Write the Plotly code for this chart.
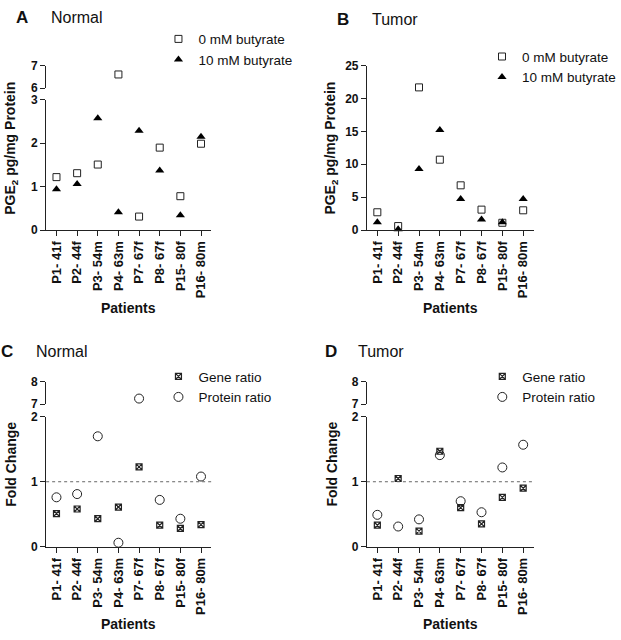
import plotly.graph_objects as go

W, H = 621, 640

patients = ["P1- 41f", "P2- 44f", "P3- 54m", "P4- 63m", "P7- 67f", "P8- 67f", "P15- 80f", "P16- 80m"]

normal_0mM = [1.22, 1.31, 1.51, 6.61, 0.31, 1.90, 0.78, 1.99]
normal_10mM = [0.94, 1.06, 2.58, 0.41, 2.29, 1.37, 0.34, 2.15]
tumor_0mM = [2.7, 0.6, 21.7, 10.7, 6.8, 3.1, 1.1, 3.0]
tumor_10mM = [1.2, 0.1, 9.3, 15.2, 4.7, 1.6, 1.2, 4.7]
normal_gene = [0.51, 0.58, 0.43, 0.61, 1.23, 0.33, 0.28, 0.34]
normal_protein = [0.76, 0.81, 1.70, 0.06, 7.25, 0.72, 0.43, 1.08]
tumor_gene = [0.33, 1.05, 0.24, 1.47, 0.60, 0.35, 0.76, 0.90]
tumor_protein = [0.49, 0.31, 0.42, 1.41, 0.70, 0.53, 1.22, 1.57]

FONT = "Arial, Liberation Sans, sans-serif"


def px_x(p):
    return p / W


def px_y(p):
    return 1 - p / H


sq = dict(symbol="square-open", size=7, color="#222", line=dict(width=1, color="#222"))
tri = dict(symbol="triangle-up", size=8, color="black", line=dict(width=0))
gene = dict(symbol="square-x-open", size=6, color="#222", line=dict(width=1.2, color="#222"))
circ = dict(symbol="circle-open", size=9, color="#222", line=dict(width=1, color="#222"))

fig = go.Figure()


def add_series(xa, ylow, yup, vals, brk, marker, name, legend):
    lo_x = [p for p, v in zip(patients, vals) if v <= brk]
    lo_y = [v for v in vals if v <= brk]
    hi_x = [p for p, v in zip(patients, vals) if v > brk]
    hi_y = [v for v in vals if v > brk]
    fig.add_trace(go.Scatter(x=lo_x, y=lo_y, xaxis=xa, yaxis=ylow, mode="markers",
                             marker=marker, name=name, legend=legend, cliponaxis=False))
    if yup:
        fig.add_trace(go.Scatter(x=hi_x, y=hi_y, xaxis=xa, yaxis=yup, mode="markers",
                                 marker=marker, name=name, showlegend=False, cliponaxis=False))


# Panel A
add_series("x", "y", "y2", normal_0mM, 3, sq, "0 mM butyrate", "legend")
add_series("x", "y", "y2", normal_10mM, 3, tri, "10 mM butyrate", "legend")
# Panel B
add_series("x2", "y3", None, tumor_0mM, 100, sq, "0 mM butyrate", "legend2")
add_series("x2", "y3", None, tumor_10mM, 100, tri, "10 mM butyrate", "legend2")
# Panel C
add_series("x3", "y4", "y5", normal_gene, 2, gene, "Gene ratio", "legend3")
add_series("x3", "y4", "y5", normal_protein, 2, circ, "Protein ratio", "legend3")
# Panel D
add_series("x4", "y6", "y7", tumor_gene, 2, gene, "Gene ratio", "legend4")
add_series("x4", "y6", "y7", tumor_protein, 2, circ, "Protein ratio", "legend4")

xdomL = [px_x(46.6), px_x(213.4)]
xdomR = [px_x(370.5), px_x(538.8)]

axcommon = dict(showline=True, linecolor="#222", linewidth=1, ticks="outside", ticklen=5,
                tickwidth=1, tickcolor="#222", showgrid=False, zeroline=False,
                tickfont=dict(family=FONT, size=12, color="#111", weight="bold"))

xcommon = dict(axcommon, type="category", categoryorder="array", categoryarray=patients,
               range=[-0.5, 7.5], tickangle=-90,
               tickfont=dict(family=FONT, size=13, color="#111", weight="bold"))

fig.update_layout(
    xaxis=dict(xcommon, domain=xdomL, anchor="y"),
    yaxis=dict(axcommon, domain=[px_y(228), px_y(95)], range=[0, 3], tickvals=[0, 1, 2, 3], anchor="x"),
    yaxis2=dict(axcommon, domain=[px_y(83), px_y(60)], range=[6, 7], tickvals=[6, 7], anchor="x"),
    xaxis2=dict(xcommon, domain=xdomR, anchor="y3"),
    yaxis3=dict(axcommon, domain=[px_y(228), px_y(60)], range=[0, 25], tickvals=[0, 5, 10, 15, 20, 25], anchor="x2"),
    xaxis3=dict(xcommon, domain=xdomL, anchor="y4"),
    yaxis4=dict(axcommon, domain=[px_y(551.7), px_y(419)], range=[0, 2], tickvals=[0, 1, 2], anchor="x3"),
    yaxis5=dict(axcommon, domain=[px_y(406), px_y(383.3)], range=[7, 8], tickvals=[7, 8], anchor="x3"),
    xaxis4=dict(xcommon, domain=xdomR, anchor="y6"),
    yaxis6=dict(axcommon, domain=[px_y(551.7), px_y(419)], range=[0, 2], tickvals=[0, 1, 2], anchor="x4"),
    yaxis7=dict(axcommon, domain=[px_y(406), px_y(383.3)], range=[7, 8], tickvals=[7, 8], anchor="x4"),
)

legcommon = dict(yanchor="top", xanchor="left", bgcolor="rgba(0,0,0,0)",
                 font=dict(family=FONT, size=13.5, color="#111"), tracegroupgap=0, itemwidth=30)
fig.update_layout(
    legend=dict(legcommon, x=px_x(160), y=px_y(17)),
    legend2=dict(legcommon, x=px_x(487), y=px_y(35)),
    legend3=dict(legcommon, x=px_x(160), y=px_y(362)),
    legend4=dict(legcommon, x=px_x(487), y=px_y(362)),
)

# dotted reference lines at fold change = 1
for xr, yr in [("x3 domain", "y4"), ("x4 domain", "y6")]:
    fig.add_shape(type="line", xref=xr, yref=yr, x0=0, x1=1, y0=1, y1=1,
                  line=dict(color="#666", width=1, dash="dot"))

ann = []


def text(x, y, s, size, bold=False, angle=0, xanchor="center"):
    ann.append(dict(x=px_x(x), y=px_y(y), xref="paper", yref="paper", text=s, showarrow=False,
                    textangle=angle, xanchor=xanchor, yanchor="middle",
                    font=dict(family=FONT, size=size, color="#111", weight="bold" if bold else "normal")))


# panel letters and titles
text(22, 11, "A", 17, True)
text(49, 11, "Normal", 16, False, xanchor="left")
text(346, 13, "B", 17, True)
text(374, 13, "Tumor", 16, False, xanchor="left")
text(7, 352, "C", 17, True)
text(34, 352, "Normal", 16, False, xanchor="left")
text(334, 352, "D", 17, True)
text(359, 352, "Tumor", 16, False, xanchor="left")

# axis titles
text(11, 144, "PGE<sub>2</sub> pg/mg Protein", 14, True, -90)
text(334, 144, "PGE<sub>2</sub> pg/mg Protein", 14, True, -90)
text(11, 467, "Fold Change", 14, True, -90)
text(335, 467, "Fold Change", 14, True, -90)
text(130, 308, "Patients", 14, True)
text(454.5, 308, "Patients", 14, True)
text(130, 631, "Patients", 14, True)
text(454.5, 631, "Patients", 14, True)

fig.update_layout(annotations=ann, width=W, height=H, margin=dict(l=0, r=0, t=0, b=0),
                  paper_bgcolor="white", plot_bgcolor="white", showlegend=True)

fig.write_html("out.html", config={"displayModeBar": False},
               post_script="document.body.style.margin='0';document.body.style.overflow='hidden';")
